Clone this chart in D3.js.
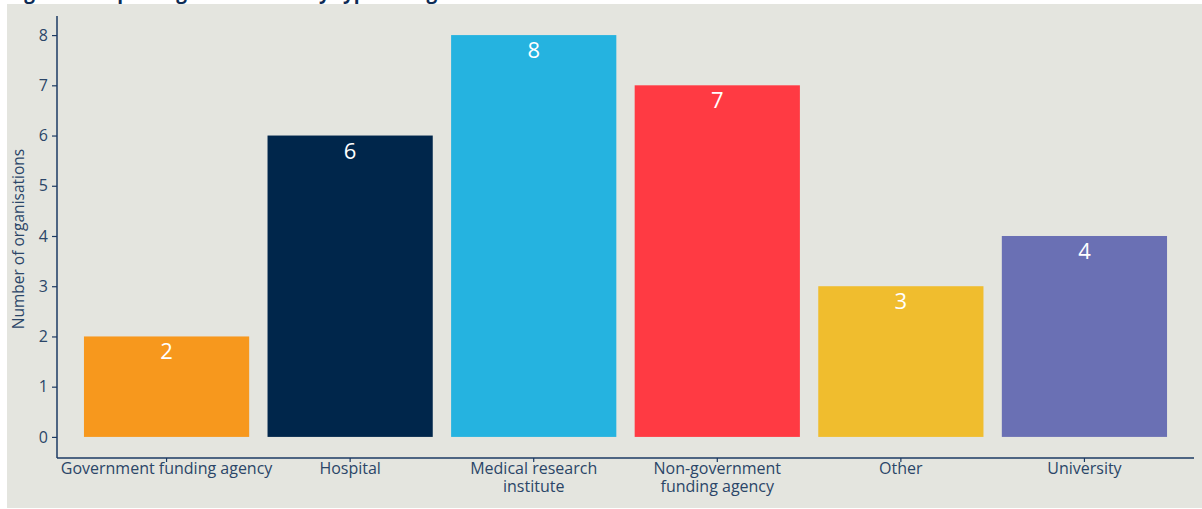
<!DOCTYPE html>
<html>
<head>
<meta charset="utf-8">
<script src="https://cdn.jsdelivr.net/npm/d3@7"></script>
<style>
  html, body { margin: 0; padding: 0; background: #ffffff; }
  svg { display: block; }
</style>
</head>
<body>
<svg id="chart" width="1202" height="509"></svg>
<script>
// Organisation types and counts
const categories = [
  "Government funding agency",
  "Hospital",
  "Medical research institute",
  "Non-government funding agency",
  "Other",
  "University"
];
const categoryLines = [
  ["Government funding agency"],
  ["Hospital"],
  ["Medical research", "institute"],
  ["Non-government", "funding agency"],
  ["Other"],
  ["University"]
];
const counts = [2, 6, 8, 7, 3, 4];
const barColors = ["#F7981D", "#00264B", "#25B3E0", "#FF3A43", "#F0BD2E", "#6A70B4"];
const yTicks = [0, 1, 2, 3, 4, 5, 6, 7, 8];
const titleText = "Figure 4: Reporting institutions by type of organisation";
const yTitle = "Number of organisations";

const svg = d3.select("#chart");
const W = 1202, H = 509;
const axisColor = "#1C3A63";
const textColor = "#2B4668";
const font = "'Open Sans', 'Noto Sans', sans-serif";

// panel background
svg.append("rect")
  .attr("x", 7).attr("y", 4).attr("width", W - 7).attr("height", H - 5)
  .attr("fill", "#E4E5DF");

// title (runs off the top edge)
svg.append("text")
  .attr("x", 8).attr("y", -1)
  .attr("font-family", font).attr("font-weight", 700).attr("font-size", 19)
  .attr("fill", "#0D2B55")
  .text(titleText);

const x = d3.scaleBand()
  .domain(categories)
  .range([65.6, 1185.4])
  .paddingInner(0.1)
  .paddingOuter(0.1);

const y = d3.scaleLinear()
  .domain([-0.42, 8.38])
  .range([458, 16]);

const xAxisY = 458, yAxisX = 57;

// bars
svg.append("g").selectAll("rect")
  .data(counts)
  .join("rect")
  .attr("x", (d, i) => x(categories[i]))
  .attr("y", d => y(d))
  .attr("width", x.bandwidth())
  .attr("height", d => y(0) - y(d))
  .attr("fill", (d, i) => barColors[i]);

// value labels inside bar tops
svg.append("g").selectAll("text")
  .data(counts)
  .join("text")
  .attr("x", (d, i) => x(categories[i]) + x.bandwidth() / 2)
  .attr("y", d => y(d) + 23)
  .attr("text-anchor", "middle")
  .attr("font-family", font).attr("font-size", 22)
  .attr("fill", "#ffffff")
  .text(d => d);

// y axis
const yAxis = svg.append("g")
  .attr("transform", `translate(${yAxisX},0)`)
  .call(d3.axisLeft(y).tickValues(yTicks).tickSize(5).tickPadding(4).tickFormat(d3.format("d")));
yAxis.select(".domain").remove();
yAxis.selectAll(".tick line").attr("stroke", axisColor).attr("stroke-width", 1.2);
yAxis.selectAll(".tick text")
  .attr("font-family", font).attr("font-size", 16).attr("fill", textColor);
svg.append("line")
  .attr("x1", yAxisX).attr("x2", yAxisX).attr("y1", 16).attr("y2", xAxisY)
  .attr("stroke", axisColor).attr("stroke-width", 1.5);

// x axis
const xAxis = svg.append("g")
  .attr("transform", `translate(0,${xAxisY})`)
  .call(d3.axisBottom(x).tickSize(4).tickFormat(""));
xAxis.select(".domain").remove();
xAxis.selectAll(".tick line").attr("stroke", axisColor).attr("stroke-width", 1.2);
svg.append("line")
  .attr("x1", yAxisX).attr("x2", 1194).attr("y1", xAxisY).attr("y2", xAxisY)
  .attr("stroke", axisColor).attr("stroke-width", 1.5);

// category labels, one text per line
const labelRows = [];
categoryLines.forEach((lines, i) => {
  lines.forEach((line, j) => labelRows.push({ cat: categories[i], line, row: j }));
});
svg.append("g").selectAll("text")
  .data(labelRows)
  .join("text")
  .attr("x", d => x(d.cat) + x.bandwidth() / 2)
  .attr("y", d => 474 + d.row * 18)
  .attr("text-anchor", "middle")
  .attr("font-family", font).attr("font-size", 16)
  .attr("fill", textColor)
  .text(d => d.line);

// y axis title
svg.append("text")
  .attr("transform", `translate(24,239) rotate(-90)`)
  .attr("text-anchor", "middle")
  .attr("font-family", font).attr("font-size", 15.5)
  .attr("fill", textColor)
  .text(yTitle);
</script>
</body>
</html>
